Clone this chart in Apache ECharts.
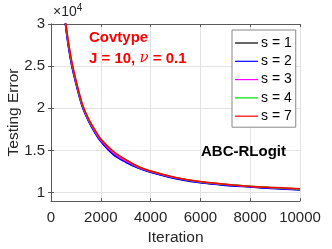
<!DOCTYPE html>
<html><head><meta charset="utf-8">
<script src="https://cdn.jsdelivr.net/npm/echarts@6/dist/echarts.min.js"></script>
<style>html,body{margin:0;padding:0;background:#fff}#c{width:332px;height:249px}</style>
</head><body><div id="c"></div>
<script>
// values in units of 1e4
const iterations = [400, 600, 800, 1000, 1250, 1500, 1750, 2000, 2500, 3000, 3500, 4000, 5000, 6000, 7000, 8000, 9000, 10000];
const s1 = [3.58, 2.95, 2.56, 2.30, 2.03, 1.855, 1.72, 1.61, 1.455, 1.365, 1.295, 1.245, 1.17, 1.12, 1.09, 1.068, 1.05, 1.035];
const s2 = [3.56, 2.94, 2.55, 2.29, 2.02, 1.85, 1.715, 1.605, 1.45, 1.36, 1.29, 1.24, 1.165, 1.115, 1.085, 1.065, 1.045, 1.03];
const s3 = [3.60, 2.97, 2.58, 2.31, 2.04, 1.865, 1.73, 1.62, 1.47, 1.375, 1.30, 1.25, 1.175, 1.125, 1.095, 1.072, 1.055, 1.04];
const s4 = [3.64, 3.00, 2.60, 2.33, 2.05, 1.875, 1.745, 1.635, 1.49, 1.39, 1.31, 1.255, 1.178, 1.128, 1.098, 1.074, 1.057, 1.042];
const s7 = [3.66, 3.01, 2.61, 2.34, 2.06, 1.88, 1.75, 1.635, 1.49, 1.39, 1.31, 1.255, 1.18, 1.13, 1.10, 1.075, 1.06, 1.045];
const seriesNames = ['s = 1', 's = 2', 's = 3', 's = 4', 's = 7'];
const seriesColors = ['#000000', '#0000ff', '#ff00ff', '#00dd00', '#ff0000'];
const yTicks = [1, 1.5, 2, 2.5, 3];
const xTicks = [0, 2000, 4000, 6000, 8000, 10000];

const allData = [s1, s2, s3, s4, s7];
const font = 'Liberation Sans, Arial, Helvetica, sans-serif';
const axisColor = '#5a5a5a';
const gridColor = '#e3e3e3';

const chart = echarts.init(document.getElementById('c'));
chart.setOption({
  animation: false,
  grid: {left: 51, right: 32, top: 24, bottom: 48, containLabel: false, outerBoundsMode: 'none'},
  legend: {
    orient: 'vertical', left: 232, top: 30,
    data: seriesNames,
    icon: 'rect', itemWidth: 23, itemHeight: 1.2, itemGap: 4.3,
    padding: [6, 4, 4, 3],
    backgroundColor: '#fff', borderColor: '#888', borderWidth: 1, borderRadius: 0,
    textStyle: {fontFamily: font, fontSize: 14, color: '#000', padding: [0,0,0,-2], lineHeight: 14, height: 14}
  },
  xAxis: [{
    type: 'value', min: 0, max: 10000, interval: 2000,
    name: 'Iteration', nameLocation: 'middle', nameGap: 29, nameMoveOverlap: false,
    nameTextStyle: {fontFamily: font, fontSize: 15.5, color: '#262626'},
    axisLine: {show: true, lineStyle: {color: axisColor}},
    axisTick: {show: true, inside: true, length: 3, lineStyle: {color: axisColor}},
    axisLabel: {fontFamily: font, fontSize: 15, color: '#262626', margin: 9, formatter: v => String(v)},
    splitLine: {show: true, lineStyle: {color: gridColor}}
  }, {
    type: 'value', position: 'top', min: 0, max: 10000, interval: 2000,
    axisLine: {show: true, lineStyle: {color: axisColor}},
    axisTick: {show: true, inside: true, length: 3, lineStyle: {color: axisColor}},
    axisLabel: {show: false}, splitLine: {show: false}
  }],
  yAxis: [{
    type: 'value', min: 0.9, max: 3,
    name: 'Testing Error', nameLocation: 'middle', nameGap: 29, nameMoveOverlap: false,
    nameTextStyle: {fontFamily: font, fontSize: 15.5, color: '#262626'},
    axisLine: {show: true, lineStyle: {color: axisColor}},
    axisTick: {show: true, inside: true, length: 3, customValues: yTicks, lineStyle: {color: axisColor}},
    axisLabel: {fontFamily: font, fontSize: 15, color: '#262626', margin: 6, customValues: yTicks},
    splitLine: {show: true, lineStyle: {color: gridColor}}
  }, {
    type: 'value', position: 'right', min: 0.9, max: 3,
    axisLine: {show: true, lineStyle: {color: axisColor}},
    axisTick: {show: true, inside: true, length: 3, customValues: yTicks, lineStyle: {color: axisColor}},
    axisLabel: {show: false, customValues: yTicks}, splitLine: {show: false}
  }],
  series: allData.map((d, i) => ({
    name: seriesNames[i], type: 'line', smooth: 0.3, symbol: 'none', clip: true,
    color: seriesColors[i],
    lineStyle: {width: 1.5, color: seriesColors[i]},
    data: iterations.map((x, k) => [x, d[k]])
  })),
  graphic: [
    {type: 'text', left: 53, top: 3, z: 100, style: {
      text: '{a|×10}{b|4}', rich: {
        a: {fontFamily: font, fontSize: 14, fill: '#262626', verticalAlign: 'bottom'},
        b: {fontFamily: font, fontSize: 10, fill: '#262626', verticalAlign: 'top', padding: [0,0,6,0]}
      }}},
    {type: 'text', left: 89, top: 30, z: 100, style: {text: 'Covtype', fontFamily: font, fontSize: 15, fontWeight: 'bold', fill: '#ff0000'}},
    {type: 'text', left: 89, top: 51, z: 100, style: {
      text: '{a|J = 10, }{b|ν}{a| = 0.1}', rich: {
        a: {fontFamily: font, fontSize: 15, fontWeight: 'bold', fill: '#ff0000'},
        b: {fontFamily: 'DejaVu Serif, serif', fontSize: 15, fontStyle: 'italic', fill: '#ff0000'}
      }}},
    {type: 'text', left: 201, top: 144, z: 100, style: {text: 'ABC-RLogit', fontFamily: font, fontSize: 15, fontWeight: 'bold', fill: '#000'}}
  ]
});
</script></body></html>
